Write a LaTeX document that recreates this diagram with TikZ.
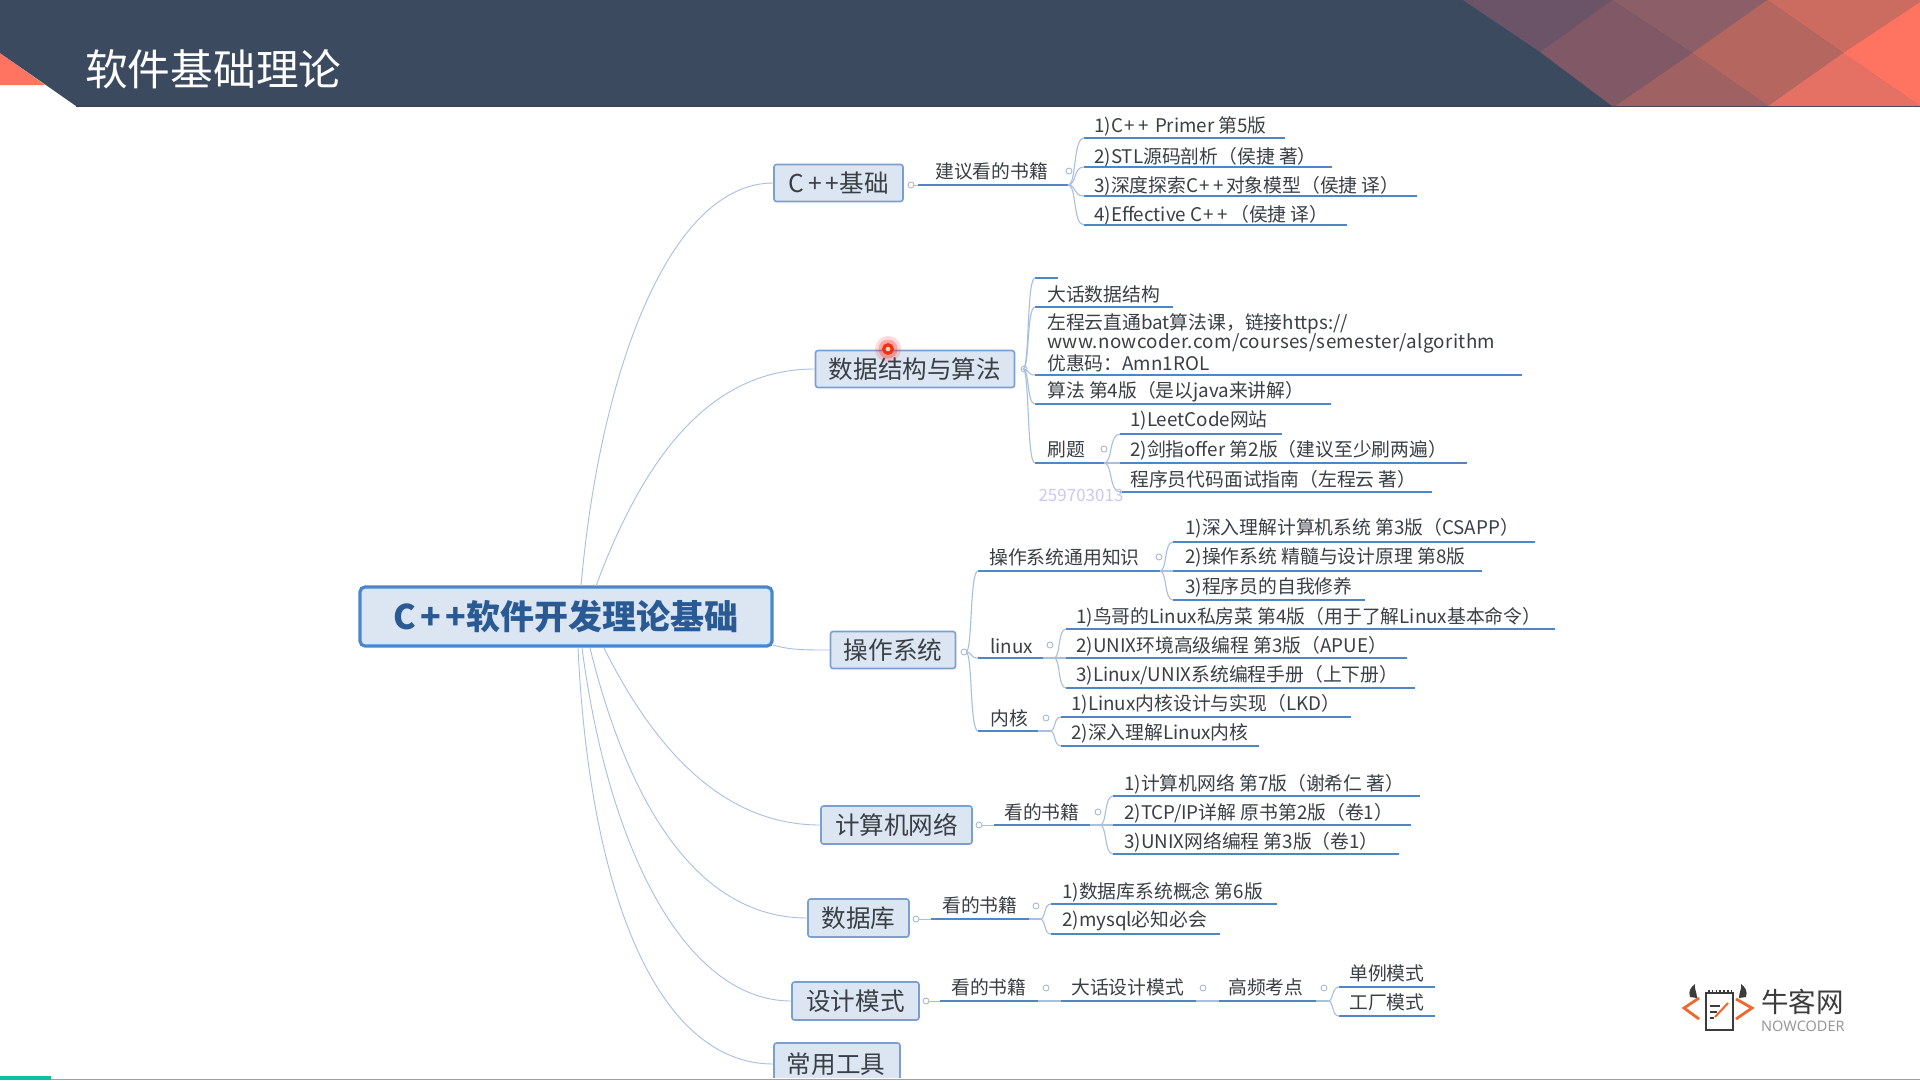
\documentclass[tikz,border=0pt]{standalone}
\usepackage{fontspec}
\setmainfont{Noto Sans CJK SC}
\newfontfamily\latfont{Noto Sans}
\usetikzlibrary{calc}
\definecolor{hdr}{HTML}{3C4A60}
\definecolor{coral}{HTML}{FF7361}
\definecolor{ulblue}{HTML}{4F86C6}
\definecolor{lineblue}{HTML}{A9BFE0}
\definecolor{boxfill}{HTML}{DCE6F3}
\definecolor{boxdraw}{HTML}{7C9FD0}
\definecolor{maindraw}{HTML}{4A86CC}
\definecolor{titletext}{HTML}{2A5A94}
\definecolor{ink}{HTML}{3A3F45}
\definecolor{logoink}{HTML}{3C3C3C}
\definecolor{logoor}{HTML}{F0672B}
\tikzset{
  topic/.style={draw=boxdraw,line width=1.6pt,fill=boxfill,rounded corners=2.5pt,inner sep=0pt,text=ink,font=\fontsize{24.6}{28}\selectfont},
  mainbox/.style={draw=maindraw,line width=3.2pt,fill=boxfill,rounded corners=5pt,inner sep=0pt,text=titletext,font=\fontsize{34}{38}\selectfont\bfseries},
  itemlabel/.style={anchor=west,inner sep=0pt,yshift=-0.8pt,text=ink,font=\fontsize{18.8}{21}\selectfont},
  ul/.style={draw=ulblue,line width=2pt},
  trunk/.style={draw=lineblue,line width=0.9pt},
  br/.style={draw=lineblue,line width=1.1pt},
  knob/.style={circle,draw=lineblue!80!gray,line width=0.8pt,fill=white,minimum size=6pt,inner sep=0pt},
}
\newcommand{\cpp}{C\kern1.5pt+\kern3.5pt+\kern2pt}
\newcommand{\tp}[1]{\raisebox{-1pt}{#1}}
% \itm{name}{text x}{text y}{ul start}{ul end}{ul y}{text}
\newcommand{\itm}[7]{%
  \node[itemlabel] (#1) at (#2,#3) {#7};
  \coordinate (#1l) at (#4,#6);
  \coordinate (#1r) at (#5,#6);
  \draw[ul] (#1l) -- (#1r);
}
% bracket from knob coordinate to the left end of an underline
\newcommand{\brk}[2]{%
  \draw[br] (#1) .. controls ($(#1)!0.55!(#2 |- #1)$) and ($(#2)!0.7!(#1 |- #2)$) .. (#2);
}
\begin{document}
\begin{tikzpicture}[x=1pt,y=-1pt]
\useasboundingbox (0,0) rectangle (1920,1080);
\fill[white] (0,0) rectangle (1920,1080);
% header
\fill[coral] (0,53) -- (45,85) -- (0,85) -- cycle;
\fill[hdr] (0,0) -- (1920,0) -- (1920,106) -- (76,106) -- (0,53) -- cycle;
\fill[fill=hdr!92!black] (76,105.4) rectangle (1920,106.6);
\fill[fill={rgb,255:red,107;green,84;blue,104}] (1463,0) -- (1612,0) -- (1540,52) -- cycle;
\fill[fill={rgb,255:red,140;green,95;blue,104}] (1612,0) -- (1767,0) -- (1692,53) -- cycle;
\fill[fill={rgb,255:red,128;green,88;blue,102}] (1540,52) -- (1612,0) -- (1692,53) -- (1615,106) -- (1612,106) -- cycle;
\fill[fill={rgb,255:red,204;green,107;blue,96}] (1767,0) -- (1920,0) -- (1920,2) -- (1843,53) -- cycle;
\fill[fill={rgb,255:red,181;green,102;blue,95}] (1692,53) -- (1767,0) -- (1843,53) -- (1768,106) -- cycle;
\fill[fill={rgb,255:red,160;green,97;blue,98}] (1615,106) -- (1692,53) -- (1768,106) -- cycle;
\fill[fill={rgb,255:red,228;green,113;blue,100}] (1768,106) -- (1843,53) -- (1920,106) -- cycle;
\fill[coral] (1843,53) -- (1920,2) -- (1920,106) -- cycle;
\node[anchor=west,inner sep=0pt,text=white,font=\fontsize{42.7}{46}\selectfont] (title) at (85,69) {软件基础理论};
% trunks first, so the boxes sit on top of them
\coordinate (m1) at (581,586);
\coordinate (m2) at (596,586);
\coordinate (m3) at (773,645);
\coordinate (m4) at (604,648);
\coordinate (m5) at (590,648);
\coordinate (m6) at (582,648);
\coordinate (m7) at (578,648);
% topics
\node[mainbox,minimum width=412pt,minimum height=59pt] (main) at (566,616.5) {C\kern4.5pt+\kern4.5pt+软件开发理论基础};
\node[topic,minimum width=129pt,minimum height=37pt] (cpp) at (838.5,183) {\tp{C\kern4pt+\kern4pt+基础}};
\node[topic,minimum width=199pt,minimum height=37pt] (ds) at (915,369) {\tp{数据结构与算法}};
\node[topic,minimum width=125pt,minimum height=37pt] (os) at (893,650) {操作系统};
\node[topic,minimum width=151pt,minimum height=38pt] (net) at (896.5,825) {计算机网络};
\node[topic,minimum width=101pt,minimum height=38pt] (db) at (858.5,918) {\tp{数据库}};
\node[topic,minimum width=127pt,minimum height=38pt] (dp) at (855.5,1001) {\tp{设计模式}};
\begin{scope}
\clip (0,0) rectangle (1920,1077);
\node[topic,minimum width=126pt,minimum height=50pt] (tools) at (837,1068) {};
\node[inner sep=0pt,text=ink,font=\fontsize{24.6}{28}\selectfont] (toolst) at (836,1064) {常用工具};
\end{scope}
\draw[trunk] (m1) .. controls (600,370) and (670,183) .. (cpp.west);
\draw[trunk] (m2) .. controls (650,440) and (720,369) .. (ds.west);
\draw[trunk] (m3) .. controls (790,650) and (805,650) .. (os.west);
\draw[trunk] (m4) .. controls (660,760) and (730,825) .. (net.west);
\draw[trunk] (m5) .. controls (630,810) and (700,918) .. (db.west);
\draw[trunk] (m6) .. controls (610,860) and (690,1001) .. (dp.west);
\draw[trunk] (m7) .. controls (590,900) and (660,1064) .. (tools.west |- toolst);
% C++ branch
\itm{a0}{935}{171}{918}{1062}{185}{建议看的书籍}
\itm{a1}{1094}{126}{1084}{1285}{138}{1)\cpp\ Primer 第5版}
\itm{a2}{1094}{156}{1084}{1332}{167}{2)STL源码剖析（侯捷 著）}
\itm{a3}{1094}{185}{1084}{1417}{196}{3)深度探索\cpp 对象模型（侯捷 译）}
\itm{a4}{1094}{214}{1084}{1347}{225}{4)Effective \cpp（侯捷 译）}
\node[knob] (ka) at (1069,171) {};
\node[knob] (kcpp) at (911,185) {};
\draw[trunk] (kcpp) -- (a0l);
\coordinate (ba) at (1068,185);
\draw[ul] (a0r) -- (ba);
\brk{ba}{a1l}\brk{ba}{a2l}\brk{ba}{a3l}\brk{ba}{a4l}
% DS branch
\coordinate (d0l) at (1035,278); \coordinate (d0r) at (1058,278);
\draw[ul] (d0l) -- (d0r);
\itm{d1}{1047}{294}{1035}{1173}{307}{大话数据结构}
\node[itemlabel,align=left,font=\fontsize{18.8}{19.4}\selectfont] (d2) at (1047,342) {左程云直通bat算法课，链接https://\\{\addfontfeature{LetterSpace=2}www.nowcoder.com/courses/semester/algorithm}\\优惠码：Amn1ROL};
\coordinate (d2l) at (1035,375); \coordinate (d2r) at (1522,375);
\draw[ul] (d2l) -- (d2r);
\itm{d3}{1047}{391}{1035}{1331}{404}{算法 第4版（是以java来讲解）}
\itm{d4}{1047}{449}{1035}{1100}{463}{刷题}
\node[knob] (kds) at (1024,369) {};
\coordinate (bd) at (1023,369);
\brk{bd}{d0l}\brk{bd}{d1l}\brk{bd}{d2l}\brk{bd}{d3l}\brk{bd}{d4l}
\itm{e1}{1130}{420}{1120}{1282}{434}{1)LeetCode网站}
\itm{e2}{1130}{449}{1120}{1467}{463}{2)剑指offer 第2版（建议至少刷两遍）}
\itm{e3}{1130}{479}{1120}{1432}{492}{程序员代码面试指南（左程云 著）}
\node[knob] (kd4) at (1104,449) {};
\coordinate (be) at (1104,463);
\draw[ul] (d4r) -- (be);
\brk{be}{e1l}\brk{be}{e2l}\brk{be}{e3l}
\node[inner sep=0pt,text={rgb,255:red,205;green,200;blue,240},font=\fontsize{17}{19}\selectfont] (wm) at (1081,495) {259703013};
\fill[red!90!orange,opacity=.15] (888,349) circle (13pt);
\fill[red!90!orange,opacity=.25] (888,349) circle (9.5pt);
\node[circle,draw={rgb,255:red,240;green,50;blue,20},line width=3.2pt,fill=white!70!orange,minimum size=8.5pt,inner sep=0pt] (dot) at (888,349) {};
% OS branch
\itm{o1}{989}{557}{978}{1152}{571}{操作系统通用知识}
\itm{o2}{990}{645}{978}{1043}{658}{linux}
\itm{o3}{990}{718}{978}{1038}{731}{内核}
\node[knob] (kos) at (964,652) {};
\coordinate (bo) at (966,652);
\brk{bo}{o1l}\brk{bo}{o2l}\brk{bo}{o3l}
\itm{p1}{1185}{527}{1173}{1535}{542}{1)深入理解计算机系统 第3版（CSAPP）}
\itm{p2}{1185}{557}{1173}{1482}{571}{2)操作系统 精髓与设计原理 第8版}
\itm{p3}{1185}{587}{1173}{1365}{600}{3)程序员的自我修养}
\node[knob] (ko1) at (1159,557) {};
\coordinate (bp) at (1160,571);
\draw[ul] (o1r) -- (bp);
\brk{bp}{p1l}\brk{bp}{p2l}\brk{bp}{p3l}
\itm{q1}{1076}{616}{1066}{1555}{629}{1)鸟哥的Linux私房菜 第4版（用于了解Linux基本命令）}
\itm{q2}{1076}{645}{1066}{1407}{658}{2)UNIX环境高级编程 第3版（APUE）}
\itm{q3}{1076}{674}{1066}{1415}{688}{3)Linux/UNIX系统编程手册（上下册）}
\node[knob] (ko2) at (1050,645) {};
\coordinate (bq) at (1054,658);
\draw[br] (o2r) -- (bq);
\brk{bq}{q1l}\brk{bq}{q2l}\brk{bq}{q3l}
\itm{r1}{1071}{703}{1061}{1351}{717}{1)Linux内核设计与实现（LKD）}
\itm{r2}{1071}{733}{1061}{1259}{746}{2)深入理解Linux内核}
\node[knob] (ko3) at (1046,718) {};
\coordinate (br) at (1050,731);
\draw[br] (o3r) -- (br);
\brk{br}{r1l}\brk{br}{r2l}
% network
\itm{n0}{1004}{812}{994}{1090}{825}{看的书籍}
\itm{n1}{1124}{783}{1113}{1420}{796}{1)计算机网络 第7版（谢希仁 著）}
\itm{n2}{1124}{812}{1113}{1411}{825}{2)TCP/IP详解 原书第2版（卷1）}
\itm{n3}{1124}{841}{1113}{1399}{854}{3)UNIX网络编程 第3版（卷1）}
\node[knob] (knet) at (979,825) {};
\node[knob] (kn0) at (1098,812) {};
\draw[trunk] (knet) -- (n0l);
\coordinate (bn) at (1100,825);
\draw[br] (n0r) -- (bn);
\brk{bn}{n1l}\brk{bn}{n2l}\brk{bn}{n3l}
% database
\itm{s0}{942}{905}{931}{1029}{919}{看的书籍}
\itm{s1}{1062}{891}{1051}{1277}{904}{1)数据库系统概念 第6版}
\itm{s2}{1062}{920}{1051}{1220}{934}{2)mysql必知必会}
\node[knob] (kdb) at (916,919) {};
\node[knob] (ks0) at (1036,906) {};
\draw[trunk] (kdb) -- (s0l);
\coordinate (bs) at (1040,919);
\draw[br] (s0r) -- (bs);
\brk{bs}{s1l}\brk{bs}{s2l}
% design patterns
\itm{t0}{951}{987}{940}{1038}{1001}{看的书籍}
\itm{t1}{1071}{987}{1061}{1196}{1001}{大话设计模式}
\itm{t2}{1228}{987}{1219}{1316}{1001}{高频考点}
\itm{t3}{1349}{973}{1339}{1435}{987}{单例模式}
\itm{t4}{1349}{1002}{1339}{1435}{1016}{工厂模式}
\node[knob] (kdp) at (926,1001) {};
\node[knob] (kt0) at (1046,988) {};
\node[knob] (kt1) at (1203,988) {};
\node[knob] (kt2) at (1324,988) {};
\draw[trunk] (kdp) -- (t0l);
\draw[br] (t0r) -- (t1l);
\draw[br] (t1r) -- (t2l);
\coordinate (bt) at (1328,1001);
\draw[br] (t2r) -- (bt);
\brk{bt}{t3l}\brk{bt}{t4l}
% logo
\draw[logoor,line width=2.8pt] (1699,998) -- (1684,1008) -- (1699,1019);
\draw[logoor,line width=2.8pt] (1736,999) -- (1752,1008) -- (1736,1019);
\draw[logoink,line width=1.6pt] (1706,993) rectangle (1733,1030);
\draw[logoink,line width=2.4pt,dash pattern=on 1.6pt off 2.2pt] (1708,991) -- (1732,991);
\fill[logoink] (1690,997) .. controls (1688,991) and (1691,987) .. (1695,984) .. controls (1694,989) and (1697,992) .. (1697,998) -- cycle;
\fill[logoink] (1746,997) .. controls (1748,991) and (1745,987) .. (1741,984) .. controls (1742,989) and (1739,992) .. (1739,998) -- cycle;
\draw[logoor,line width=2pt] (1715,1017) -- (1728,1003);
\draw[logoink,line width=1.6pt] (1710,1006) -- (1720,1006) (1710,1012) -- (1717,1012) (1710,1018) -- (1714,1018);
\node[anchor=west,inner sep=0pt,text=logoink,font=\fontsize{27.5}{30}\selectfont] (lg) at (1761,1002) {牛客网};
\node[anchor=west,inner sep=0pt,text=gray!80,font=\latfont\fontsize{14.5}{16}\selectfont] (lg2) at (1761,1026) {NOWCODER};
% bottom bar
\fill[gray!75] (0,1079) rectangle (1920,1080);
\fill[fill={rgb,255:red,16;green,191;blue,160}] (0,1076) rectangle (51,1080);
\end{tikzpicture}
\end{document}
